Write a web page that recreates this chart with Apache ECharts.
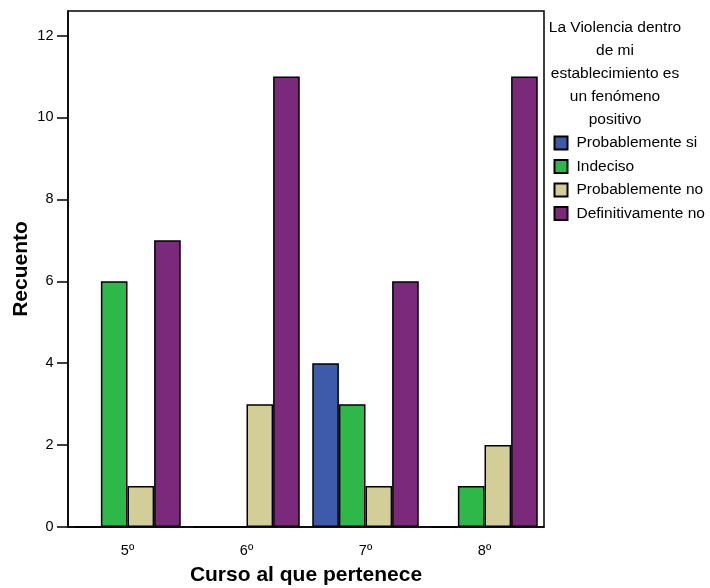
<!DOCTYPE html>
<html>
<head>
<meta charset="utf-8">
<script src="https://cdn.jsdelivr.net/npm/echarts@6/dist/echarts.min.js"></script>
<style>html,body{margin:0;padding:0;background:#fff}#c{width:710px;height:588px}</style>
</head>
<body>
<div id="c"></div>
<script>
const categories = ['5º', '6º', '7º', '8º'];
const seriesNames = ['Probablemente si', 'Indeciso', 'Probablemente no', 'Definitivamente no'];
const probablementeSi = [0, 0, 4, 0];
const indeciso = [6, 0, 3, 1];
const probablementeNo = [1, 3, 1, 2];
const definitivamenteNo = [7, 11, 6, 11];
const yTicks = [0, 2, 4, 6, 8, 10, 12];
const colors = ['#3d5aab', '#2eb84a', '#d3ce98', '#7b2a7b'];
const legendTitle = 'La Violencia dentro\nde mi\nestablecimiento es\nun fenómeno\npositivo';

const values = [probablementeSi, indeciso, probablementeNo, definitivamenteNo];
const font = 'Liberation Sans, Arial, sans-serif';
const chart = echarts.init(document.getElementById('c'));
chart.setOption({
  animation: false,
  textStyle: { fontFamily: font },
  title: {
    text: legendTitle, left: 615, top: 16, padding: 0, textAlign: 'center',
    textStyle: { fontSize: 15.5, fontWeight: 'normal', color: '#000', lineHeight: 23, fontFamily: font }
  },
  legend: {
    orient: 'vertical', left: 553.5, top: 135, padding: 0, itemWidth: 13, itemHeight: 13, itemGap: 7.5,
    icon: 'rect', data: seriesNames,
    textStyle: { fontSize: 15.5, lineHeight: 16, color: '#000', fontFamily: font, padding: [0, 0, 0, 4] }
  },
  grid: { left: 68, right: 166, top: 11, bottom: 61, containLabel: false, outerBoundsMode: 'none',
    show: true, borderColor: '#000', borderWidth: 1.5 },
  xAxis: {
    type: 'category', data: categories,
    name: 'Curso al que pertenece', nameLocation: 'middle', nameGap: 38, nameMoveOverlap: false,
    nameTextStyle: { fontSize: 21, fontWeight: 'bold', color: '#000', fontFamily: font },
    axisLine: { lineStyle: { color: '#000', width: 1.5 } },
    axisTick: { alignWithLabel: true, length: 10, lineStyle: { color: '#000', width: 1.5 } },
    axisLabel: { fontSize: 14.5, color: '#000', margin: 16, fontFamily: font }
  },
  yAxis: {
    type: 'value', min: 0, max: 12.6, interval: 2,
    name: 'Recuento', nameLocation: 'middle', nameGap: 36, nameMoveOverlap: false,
    nameTextStyle: { fontSize: 21, fontWeight: 'bold', color: '#000', fontFamily: font },
    axisLine: { show: true, lineStyle: { color: '#000', width: 1.5 } },
    axisTick: { show: true, length: 11, customValues: yTicks, lineStyle: { color: '#000', width: 1.5 } },
    axisLabel: { fontSize: 14.5, color: '#000', margin: 14.5, customValues: yTicks, fontFamily: font },
    splitLine: { show: false }
  },
  series: seriesNames.map((n, i) => ({
    name: n, type: 'bar', data: values[i],
    barGap: '0%', barCategoryGap: '10.5%',
    itemStyle: { color: colors[i], borderColor: '#000', borderWidth: 1.5 }
  }))
});
</script>
</body>
</html>
